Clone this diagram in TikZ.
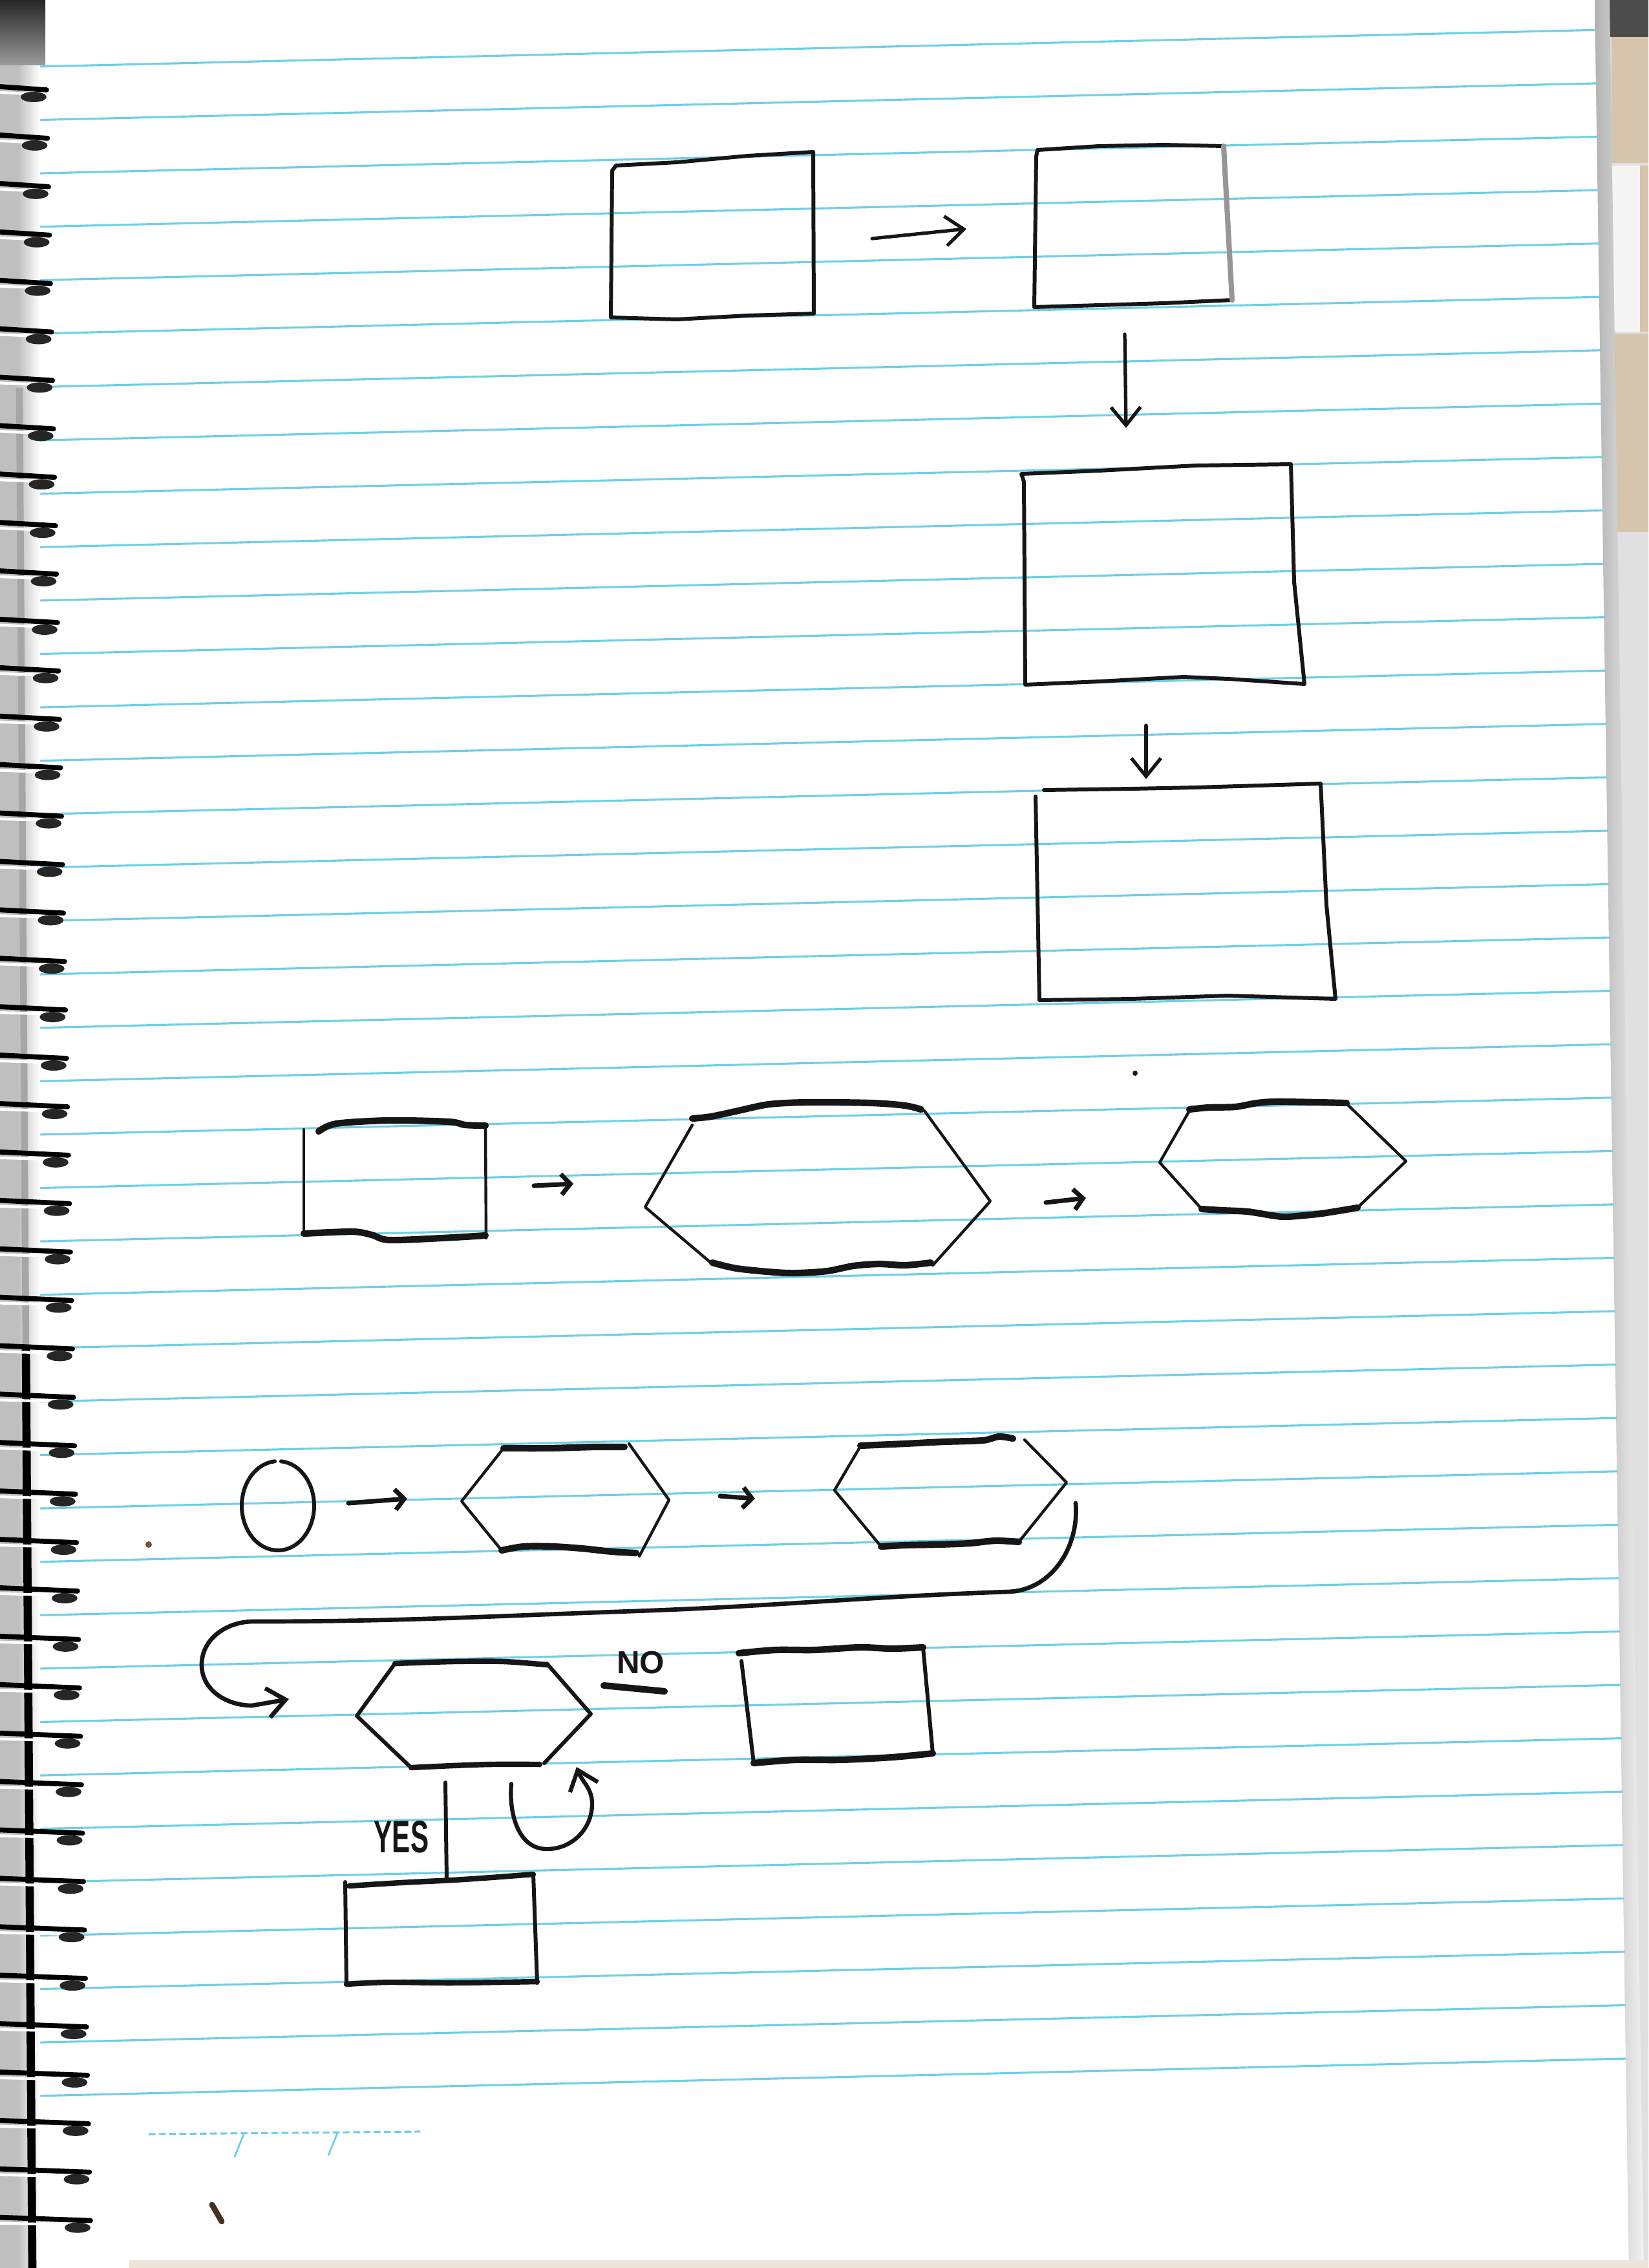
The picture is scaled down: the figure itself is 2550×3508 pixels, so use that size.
\documentclass[tikz,border=0pt]{standalone}
\usepackage{fontspec}
\setmainfont{Liberation Sans}
\usetikzlibrary{arrows.meta}

\definecolor{ink}{RGB}{22,22,22}
\definecolor{ruleblue}{RGB}{112,206,232}
\definecolor{card}{RGB}{214,196,172}
\definecolor{speck}{RGB}{120,80,50}

\tikzset{
  ruling/.style={draw=ruleblue, line width=0.9pt},
  pen/.style={draw=ink, line width=1.7pt, line cap=round, line join=round},
  fine/.style={draw=ink, line width=1.25pt, line cap=round, line join=round},
  bold/.style={draw=ink, line width=2.9pt, line cap=round, line join=round},
  conn/.style={draw=ink, line width=1.5pt, line cap=round, line join=round,
    -{Straight Barb[length=8pt,width=13pt]}},
  hook/.style={draw=ink, line width=2pt, line cap=round, line join=round,
    -{Straight Barb[length=4pt,width=9pt]}},
  label/.style={text=ink, inner sep=0pt}
}

\begin{document}
\begin{tikzpicture}[x=0.01cm, y=-0.01cm]
\useasboundingbox (0,0) rectangle (2550,3508);
\fill[white] (0,0) rectangle (2550,3508);

% ---------- notebook page ----------
% strip beyond the right page edge, with the divider tabs
\fill[black!12] (2467,0) -- (2550,0) -- (2550,3508) -- (2520,3508) -- cycle;
\fill[card] (2493,57) rectangle (2550,252);
\fill[black!4] (2493,256) rectangle (2537,513);
\fill[card] (2537,256) rectangle (2550,513);
\fill[card] (2498,516) rectangle (2550,823);
\fill[black!70] (2480,0) rectangle (2550,57);
\shade[left color=black!30, right color=black!5]
  (2467,0) -- (2490,0) -- (2543,3508) -- (2520,3508) -- cycle;
\fill[card!45] (200,3496) rectangle (2550,3508);

% ruled lines
\foreach \k in {0,...,38}{
  \pgfmathsetmacro{\ya}{104.35+82.6*\k}
  \pgfmathsetmacro{\xe}{2467+0.0151*\ya}
  \pgfmathsetmacro{\yb}{\ya-0.0235*\xe}
  \draw[ruling] (0,\ya) -- (\xe,\yb);
}
\draw[ruling, dash pattern=on 3pt off 1.5pt] (230,3301) -- (650,3297);
\draw[ruling, line width=0.8pt] (377,3301) -- (363,3336);
\draw[ruling, line width=0.8pt] (522,3299) -- (508,3334);

% spiral binding
\fill[black!25] (0,0) rectangle (28,3508);
\shade[left color=black!25, right color=white] (28,0) rectangle (62,3508);
\shade[top color=black!85, bottom color=black!40] (0,0) rectangle (70,100);
\draw[black!35, line width=3pt] (30,600) -- (40,2080);
\draw[black, line width=3.6pt] (40,2080) -- (50,3508);
\foreach \i in {0,...,44}{
  \pgfmathsetmacro{\cy}{134+74.9*\i}
  \pgfmathsetmacro{\ce}{72+68*\i/44}
  \draw[black, line width=2.2pt, line cap=round] (0,\cy) -- (\ce,\cy+5);
  \draw[white, line width=1.2pt] (0,\cy+9) -- (\ce-8,\cy+12);
  \fill[black!85] (\ce-20,\cy+16) ellipse [x radius=20, y radius=8];
}

% specks on the paper
\fill[ink] (1756,1660) circle (4);
\fill[speck] (230,2389) circle (5);
\draw[speck!60!black, line width=2.5pt, line cap=round] (328,3410) -- (343,3436);

% ---------- top column of boxes ----------
% box A
\draw[pen] (953,256) -- (1047,251) -- (1157,241) -- (1258,235)
  -- (1259,485) -- (1157,488) -- (1047,494) -- (945,491) -- (947,264) -- cycle;
% box B (right side smudged)
\draw[pen] (1893,226) -- (1800,224) -- (1700,226) -- (1605,232)
  -- (1603,242) -- (1600,475) -- (1700,472) -- (1800,469) -- (1906,464);
\draw[draw=ink!45, line width=2.3pt, line cap=round] (1893,226) -- (1897,300) -- (1906,464);
% box C
\draw[pen] (1586,1059) -- (1584,745) -- (1580,733) -- (1700,728) -- (1850,720)
  -- (1997,718) -- (2002,900) -- (2018,1058) -- (1900,1050) -- (1831,1047)
  -- (1700,1054) -- cycle;
% box D
\draw[pen] (1615,1222) -- (1750,1220) -- (1850,1218) -- (2043,1212)
  -- (2052,1400) -- (2066,1545) -- (1900,1540) -- (1750,1545) -- (1608,1547)
  -- (1602,1232);

\coordinate (ab-s) at (1349,369);  \coordinate (ab-e) at (1495,354);
\coordinate (bc-s) at (1740,517);  \coordinate (bc-e) at (1742,662);
\coordinate (cd-s) at (1773,1122); \coordinate (cd-e) at (1773,1205);
\draw[conn] (ab-s) -- (ab-e);
\draw[conn] (bc-s) -- (bc-e);
\draw[conn] (cd-s) -- (cd-e);

% ---------- middle row ----------
% box E
\draw[fine] (470,1747) -- (470,1910);
\draw[fine] (751,1741) -- (752,1915);
\draw[bold] plot[smooth] coordinates {(493,1750) (520,1738) (602,1733) (694,1735) (720,1740) (751,1741)};
\draw[bold] plot[smooth] coordinates {(470,1908) (545,1905) (575,1910) (602,1918) (683,1915) (751,1911)};
% hexagon F
\draw[fine] (1430,1718) -- (1532,1858) -- (1443,1957);
\draw[fine] (1102,1955) -- (998,1867) -- (1071,1740);
\draw[bold] plot[smooth] coordinates {(1071,1730) (1100,1727) (1142,1718) (1190,1708) (1250,1705) (1348,1706) (1400,1710) (1425,1716)};
\draw[bold] plot[smooth] coordinates {(1102,1953) (1140,1962) (1200,1968) (1234,1969) (1280,1966) (1320,1958) (1360,1955) (1400,1957) (1440,1953)};
% hexagon G
\draw[fine] (2083,1707) -- (2175,1796) -- (2100,1868);
\draw[fine] (1859,1870) -- (1794,1798) -- (1840,1718);
\draw[bold] plot[smooth] coordinates {(1840,1716) (1870,1713) (1911,1712) (1945,1706) (1980,1704) (2083,1706)};
\draw[bold] plot[smooth] coordinates {(2100,1868) (2070,1873) (2037,1878) (1990,1882) (1968,1880) (1930,1874) (1890,1872) (1859,1870)};

\coordinate (ef-s) at (826,1834);  \coordinate (ef-e) at (887,1831);
\coordinate (fg-s) at (1618,1860); \coordinate (fg-e) at (1680,1853);
\draw[hook] (ef-s) -- (ef-e);
\draw[hook] (fg-s) -- (fg-e);

% ---------- lower flow ----------
% start ellipse
\draw[pen] (430,2329) ++(275:56 and 69) arc[start angle=275, end angle=625, x radius=56, y radius=69];
% hexagon H1
\draw[fine] (973,2233) -- (1035,2320) -- (989,2407);
\draw[fine] (776,2398) -- (714,2322) -- (779,2240);
\draw[bold] plot[smooth] coordinates {(779,2240) (850,2240) (920,2238) (966,2238)};
\draw[bold] plot[smooth] coordinates {(776,2398) (810,2392) (855,2392) (900,2395) (947,2400) (984,2402)};
% hexagon H2
\draw[fine] (1585,2227) -- (1650,2293) -- (1576,2385);
\draw[fine] (1363,2392) -- (1291,2305) -- (1331,2237);
\draw[bold] plot[smooth] coordinates {(1331,2236) (1400,2233) (1460,2230) (1520,2228) (1545,2222) (1567,2225)};
\draw[bold] plot[smooth] coordinates {(1363,2392) (1400,2390) (1450,2389) (1500,2387) (1540,2383) (1576,2385)};
% decision hexagon H3
\draw[pen] (846,2573) -- (914,2651) -- (842,2727);
\draw[pen] (636,2734) -- (552,2654) -- (611,2573);
\draw[bold, line width=2.4pt] plot[smooth] coordinates {(611,2573) (700,2570) (780,2570) (846,2575)};
\draw[bold, line width=2.4pt] plot[smooth] coordinates {(835,2729) (760,2729) (700,2731) (636,2734)};
% box reached on NO
\draw[pen] (1428,2548) -- (1443,2712);
\draw[pen] (1147,2569) -- (1166,2727);
\draw[bold] plot[smooth] coordinates {(1143,2557) (1200,2552) (1260,2552) (1330,2548) (1380,2550) (1428,2548)};
\draw[bold] plot[smooth] coordinates {(1443,2712) (1380,2718) (1300,2722) (1230,2722) (1166,2727)};
% box reached on YES
\draw[pen] (825,2899) -- (831,3067);
\draw[pen] (534,2911) -- (536,3069);
\draw[bold, line width=2.4pt] plot[smooth] coordinates {(540,2917) (620,2912) (700,2908) (760,2904) (825,2899)};
\draw[bold, line width=2.4pt] plot[smooth] coordinates {(831,3065) (700,3067) (600,3066) (536,3069)};

% connectors of the lower flow
\coordinate (oh-s) at (539,2325);  \coordinate (oh-e) at (630,2318);
\coordinate (hh-s) at (1114,2314); \coordinate (hh-e) at (1168,2318);
\draw[hook] (oh-s) -- (oh-e);
\draw[hook] (hh-s) -- (hh-e);

% long return line from H2 round to the decision hexagon
% (out/in angles are page angles: -90 points down the page)
\coordinate (h2-out) at (1664,2325);
\coordinate (h3-in) at (447,2628);
\draw[conn, line width=1.9pt] (h2-out) to[out=-85, in=2] (1560,2462)
  to[out=182, in=2] (980,2492) to[out=182, in=0] (392,2508)
  to[out=180, in=90] (312,2575) to[out=-90, in=180] (390,2638) -- (h3-in);

% self loop under the decision hexagon
\coordinate (loop-s) at (791,2759);
\coordinate (loop-e) at (892,2733);
\draw[conn, line width=1.8pt] (loop-s) to[out=-95, in=180] (846,2860)
  to[out=0, in=-90] (916,2790) to[out=90, in=-70] (loop-e);

\coordinate (yes-top) at (689,2757);
\coordinate (yes-bot) at (691,2905);
\draw[pen] (yes-top) -- (yes-bot);
\coordinate (no-l) at (934,2607);
\coordinate (no-r) at (1028,2616);
\draw[bold] (no-l) -- (no-r);

\node[label, font=\bfseries\fontsize{20}{20}\selectfont] (yes) at (621,2841) {\scalebox{0.6}[1]{YES}};
\node[label, font=\bfseries\fontsize{14}{14}\selectfont] (no) at (991,2572) {NO};
\end{tikzpicture}
\end{document}
